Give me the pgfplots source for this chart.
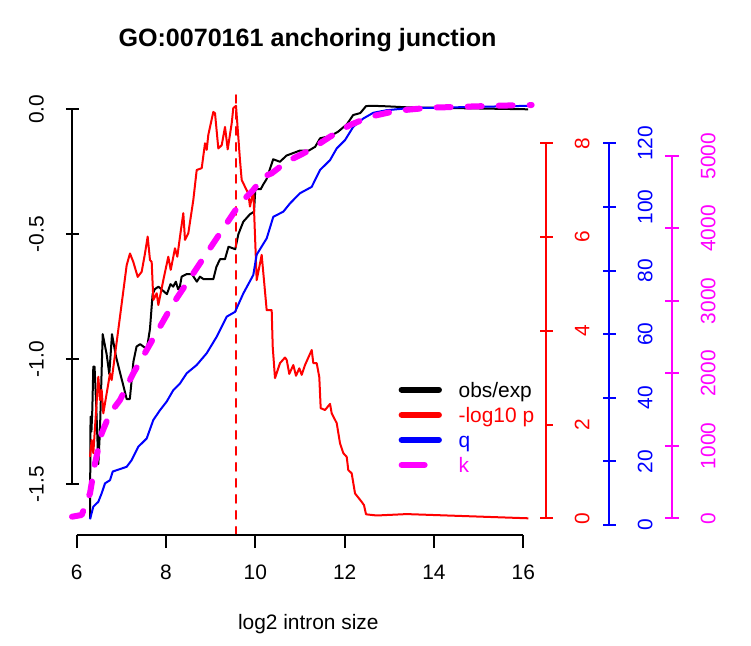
\documentclass[border=0pt]{standalone}
\usepackage{pgfplots}
\pgfplotsset{compat=1.18}
\usepackage{fontspec}
\setmainfont{Liberation Sans}
\definecolor{Rmag}{RGB}{255,0,255}
\definecolor{Rred}{RGB}{255,0,0}
\definecolor{Rblue}{RGB}{0,0,255}
\newcommand{\rfont}{\fontsize{10.45pt}{12.55pt}\selectfont}
\newcommand{\lt}[1]{\makebox[37.76pt][l]{#1}}
\pgfplotsset{
  Rax/.style={scale only axis, clip=false, anchor=south west,
    axis x line=none, xtick=\empty,
    tick align=outside, major tick length=6.5pt,
    ytick style={line width=1pt},
    tick label style={font=\rfont},
  },
}
\begin{document}
\rfont
\begin{tikzpicture}[font=\rfont]
\useasboundingbox (0,0) rectangle (375.5pt,322.5pt);

% main axis: obs/exp (left axis)
\begin{axis}[Rax, at={(36.15pt,80.5pt)}, width=225.5pt, height=187.35pt,
  xmin=5.9015, xmax=16, ymin=-1.5, ymax=0, axis y line=left,
  y axis line style={-, line width=1pt, black},
  ytick={-1.5,-1,-0.5,0}, yticklabels={-1.5,-1.0,-0.5,0.0},
  ytick style={black},
  yticklabel style={xshift=-10.8pt, rotate=90, anchor=south, inner sep=0pt}]
\addplot[black, line width=1pt, line join=round] coordinates {
(6.298,-1.64) (6.310,-1.23) (6.330,-1.29) (6.350,-1.20) (6.372,-1.03) (6.40,-1.03)
(6.44,-1.20) (6.484,-1.42) (6.52,-1.29) (6.582,-0.90) (6.67,-0.98) (6.73,-1.06)
(6.79,-0.90) (6.88,-0.99) (7.12,-1.16) (7.19,-1.16) (7.27,-1.01) (7.34,-0.95)
(7.42,-0.94) (7.57,-0.96) (7.64,-0.88) (7.70,-0.74) (7.75,-0.72) (7.83,-0.71)
(8.02,-0.74) (8.10,-0.70) (8.16,-0.71) (8.22,-0.69) (8.27,-0.72) (8.31,-0.71)
(8.35,-0.67) (8.46,-0.66) (8.58,-0.66) (8.69,-0.69) (8.76,-0.67) (8.84,-0.68)
(9.06,-0.68) (9.13,-0.63) (9.21,-0.60) (9.32,-0.60) (9.40,-0.55) (9.55,-0.56)
(9.62,-0.50) (9.73,-0.45) (9.88,-0.42) (9.97,-0.41) (10.00,-0.32) (10.12,-0.32)
(10.18,-0.30) (10.25,-0.28) (10.40,-0.20) (10.55,-0.21) (10.70,-0.185) (10.85,-0.175)
(11.00,-0.165) (11.20,-0.165) (11.34,-0.15) (11.45,-0.116) (11.68,-0.107) (11.85,-0.09)
(12.05,-0.06) (12.19,-0.023) (12.35,-0.015) (12.48,0.013) (12.64,0.014) (12.94,0.012)
(13.39,0.008) (16.11,0.0)
};
\addplot[Rred, line width=1pt, line cap=round, dash pattern=on 4pt off 4pt]
  coordinates {(9.567,-1.704) (9.567,0.057)};
\end{axis}

% x axis
\begin{axis}[scale only axis, anchor=south west, at={(38.35pt,55pt)},
  width=223.3pt, height=100pt, xmin=6, xmax=16, ymin=0, ymax=1,
  axis x line=bottom, axis y line=none, ytick=\empty,
  x axis line style={-, line width=1pt},
  xtick={6,8,10,12,14,16}, xticklabels={6,8,10,12,14,16},
  tick align=outside, major tick length=6.5pt,
  xtick style={line width=1pt, black},
  tick label style={font=\rfont},
  xticklabel style={anchor=north, inner sep=0pt, yshift=-8.5pt}]
\addplot[draw=none] coordinates {(6,0)};
\end{axis}

% -log10 p (red axis)
\begin{axis}[Rax, at={(38.35pt,63.35pt)}, width=234.65pt, height=187.5pt,
  xmin=6, xmax=16.508, ymin=0, ymax=8, axis y line=right,
  y axis line style={-, line width=1pt, Rred},
  ytick={0,2,4,6,8}, yticklabels={0,2,4,6,8},
  ytick style={Rred},
  yticklabel style={text=Rred, xshift=11pt, rotate=90, anchor=north, inner sep=0pt}]
\addplot[Rred, line width=1pt, line join=round] coordinates {
(6.298,1.31) (6.336,1.67) (6.372,1.39) (6.484,3.02) (6.522,2.52) (6.559,2.74)
(6.596,2.24) (6.746,3.09) (6.783,2.95) (6.931,4.02) (7.119,5.40) (7.193,5.65)
(7.267,5.47) (7.366,5.15) (7.455,5.26) (7.529,5.65) (7.589,6.01) (7.641,5.51)
(7.679,5.47) (7.716,4.66) (7.791,4.80) (7.828,4.55) (7.939,5.08) (8.051,5.58)
(8.105,5.30) (8.201,5.76) (8.253,5.58) (8.313,6.01) (8.387,6.51) (8.425,5.94)
(8.499,6.08) (8.611,6.79) (8.687,7.43) (8.799,7.47) (8.873,8.00) (8.911,7.86)
(8.947,8.18) (9.059,8.67) (9.097,8.64) (9.171,7.89) (9.247,7.96) (9.321,8.35)
(9.381,7.87) (9.471,8.43) (9.506,8.75) (9.567,8.80) (9.618,8.14) (9.656,7.64)
(9.694,7.22) (9.730,7.15) (9.769,7.07) (9.842,6.93) (9.880,6.65) (9.954,7.00)
(10.030,5.08) (10.142,5.62) (10.254,4.44) (10.366,4.44) (10.389,3.66) (10.440,2.99)
(10.552,3.31) (10.664,3.43) (10.702,3.38) (10.760,3.08) (10.850,3.27) (10.910,3.04)
(10.984,3.20) (11.038,3.06) (11.112,3.27) (11.262,3.59) (11.298,3.31) (11.374,3.31)
(11.432,3.01) (11.463,2.35) (11.560,2.31) (11.672,2.44) (11.710,2.24) (11.822,2.03)
(11.896,1.60) (11.970,1.39) (12.046,1.31) (12.081,1.03) (12.157,0.96) (12.232,0.53)
(12.382,0.35) (12.433,0.28) (12.478,0.085) (12.717,0.06) (13.389,0.09) (16.112,0.0)
};
\end{axis}

% q (blue axis)
\begin{axis}[Rax, at={(38.35pt,60pt)}, width=266.15pt, height=190.85pt,
  xmin=6, xmax=17.919, ymin=0, ymax=120, axis y line=right,
  y axis line style={-, line width=1pt, Rblue},
  ytick={0,20,...,120}, yticklabels={0,20,40,60,80,100,120},
  ytick style={Rblue},
  yticklabel style={text=Rblue, xshift=11pt, rotate=90, anchor=north, inner sep=0pt}]
\addplot[Rblue, line width=1pt, line join=round] coordinates {
(6.298,1.8) (6.372,5.75) (6.484,7.3) (6.559,9.96) (6.634,13.1) (6.746,14.1)
(6.806,16.8) (7.119,18.3) (7.231,20.4) (7.379,24.6) (7.567,27.2) (7.715,33.0)
(7.865,36.1) (8.015,38.8) (8.163,42.4) (8.313,44.5) (8.463,47.7) (8.687,50.3)
(8.911,54.0) (9.135,59.2) (9.359,65.5) (9.545,67.0) (9.731,72.8) (9.954,78.6)
(10.030,85.0) (10.254,90.1) (10.402,96.9) (10.626,98.5) (10.776,101.1) (10.999,104.3)
(11.262,106.3) (11.448,111.6) (11.672,114.7) (11.822,118.4) (12.008,121.0) (12.193,125.2)
(12.418,127.8) (12.641,129.6) (12.941,130.4) (13.389,131.0) (16.150,131.8)
};
\end{axis}

% k (magenta axis) + legend
\begin{axis}[Rax, at={(38.35pt,63.35pt)}, width=297.65pt, height=181.15pt,
  xmin=6, xmax=19.330, ymin=0, ymax=5000, axis y line=right,
  y axis line style={-, line width=1pt, Rmag},
  ytick={0,1000,...,5000}, yticklabels={0,1000,2000,3000,4000,5000},
  ytick style={Rmag},
  yticklabel style={text=Rmag, xshift=11pt, rotate=90, anchor=north, inner sep=0pt},
  legend cell align=left,
  legend style={at={(axis cs:16.49,2131)}, anchor=north east, fill=white, draw=none,
    outer sep=0pt, inner xsep=5.5pt, inner ysep=6.65pt, row sep=0pt, column sep=8.35pt,
    cells={anchor=west}, font=\rfont,
    nodes={inner sep=0pt, outer sep=0pt, text height=10.075pt, text depth=2.475pt}},
  legend image code/.code={\draw[#1, solid, line width=3pt, line cap=round] (1.5pt,0pt) -- (20.15pt,0pt); \path[draw=none] (0pt,0pt) -- (21.65pt,0pt);}]
\addplot[Rmag, line width=3pt, line cap=round, line join=round, dash pattern=on 7pt off 8.5pt, forget plot] coordinates {
(5.895,22) (6.112,46) (6.298,345) (6.410,759) (6.560,1173) (6.746,1449)
(6.970,1633) (7.267,2001) (7.567,2323) (7.865,2644) (8.163,2967) (8.463,3243)
(8.761,3519) (9.059,3795) (9.359,4071) (9.657,4347) (9.954,4531) (10.178,4714)
(10.366,4761) (10.702,4921) (11.224,5083) (11.672,5266) (12.120,5428) (12.568,5542)
(13.165,5625) (13.911,5667) (14.657,5680) (15.405,5694) (16.188,5704)
};
\addlegendimage{black}
\addlegendentry{\lt{obs/exp}}
\addlegendimage{Rred}
\addlegendentry{\lt{\textcolor{Rred}{-log10 p}}}
\addlegendimage{Rblue}
\addlegendentry{\lt{\textcolor{Rblue}{q}}}
\addlegendimage{Rmag, legend image code/.code={\draw[Rmag, solid, line width=3pt, line cap=round] (1.5pt,0pt) -- (13pt,0pt); \path[draw=none] (0pt,0pt) -- (21.65pt,0pt);}}
\addlegendentry{\lt{\textcolor{Rmag}{k}}}
\end{axis}

\node[anchor=base, font=\fontsize{12.55pt}{15pt}\selectfont\bfseries] at (153.75pt,299.15pt) {GO:0070161 anchoring junction};
\node[anchor=base] at (154.15pt,7.75pt) {log2 intron size};
\end{tikzpicture}
\end{document}
